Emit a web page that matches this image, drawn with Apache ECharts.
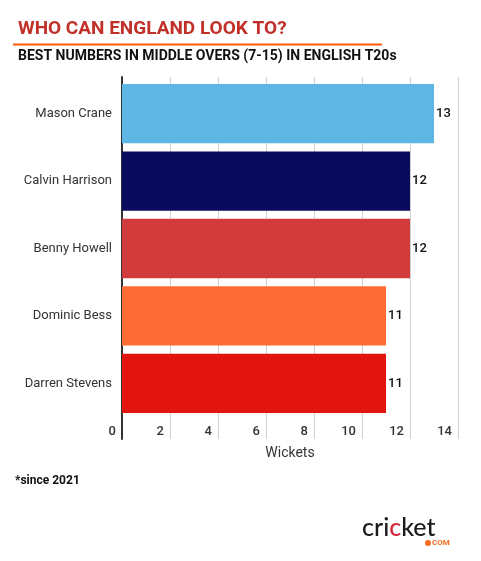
<!DOCTYPE html>
<html>
<head>
<meta charset="utf-8">
<script src="https://cdn.jsdelivr.net/npm/echarts@6/dist/echarts.min.js"></script>
<style>
html,body{margin:0;padding:0;background:#fff;}
#chart{width:481px;height:561px;}
</style>
</head>
<body>
<div id="chart"></div>
<script>
const players = ['Mason Crane', 'Calvin Harrison', 'Benny Howell', 'Dominic Bess', 'Darren Stevens'];
const wickets = [13, 12, 12, 11, 11];
const barColors = ['#5DB6E4', '#0A0B5E', '#D13B3B', '#FF6B35', '#E2140F'];
const axisMin = 0, axisMax = 14, axisStep = 2;

const chart = echarts.init(document.getElementById('chart'), null, {renderer: 'canvas'});
const FONT = 'Roboto';

chart.setOption({
  backgroundColor: '#ffffff',
  animation: false,
  textStyle: {fontFamily: FONT},
  grid: [
    {left: 122, right: 23, top: 77, height: 362},
    {left: 122, right: 23, top: 80, height: 337}
  ],
  xAxis: [
    {
      gridIndex: 0, type: 'value', min: axisMin, max: axisMax, interval: axisStep,
      axisLine: {show: false}, axisTick: {show: false},
      splitLine: {show: true, lineStyle: {color: '#d0d0d0', width: 1}},
      axisLabel: {inside: true, align: 'right', padding: [0, 6, 0, 0], margin: 1,
        color: '#333', fontSize: 13, fontWeight: 500, fontFamily: FONT},
      name: 'Wickets', nameLocation: 'middle', nameGap: 7,
      nameTextStyle: {color: '#333', fontSize: 14, fontFamily: FONT, verticalAlign: 'top'}
    },
    {
      gridIndex: 1, type: 'value', min: axisMin, max: axisMax, interval: axisStep,
      show: false
    }
  ],
  yAxis: [
    {
      gridIndex: 0, type: 'value', min: 0, max: 1,
      axisLine: {show: true, lineStyle: {color: '#333', width: 2}},
      axisTick: {show: false}, axisLabel: {show: false}, splitLine: {show: false}
    },
    {
      gridIndex: 1, type: 'category', data: players, inverse: true,
      axisLine: {show: false}, axisTick: {show: false},
      axisLabel: {color: '#333', fontSize: 13, margin: 10, fontFamily: FONT}
    }
  ],
  series: [{
    type: 'bar',
    xAxisIndex: 1, yAxisIndex: 1,
    barCategoryGap: '12%',
    data: wickets.map((v, i) => ({value: v, itemStyle: {color: barColors[i]}})),
    label: {show: true, position: 'right', distance: 2, color: '#111',
      fontSize: 13, fontWeight: 500, fontFamily: FONT}
  }],
  graphic: [
    {type: 'text', left: 18, top: 20, style: {text: 'WHO CAN ENGLAND LOOK TO?',
      fill: '#C2302A', font: 'bold 19px Roboto'}},
    {type: 'line', shape: {x1: 13, y1: 44.5, x2: 382, y2: 44.5},
      style: {stroke: '#FF5A0A', lineWidth: 2}},
    {type: 'text', left: 18, top: 49, style: {text: 'BEST NUMBERS IN MIDDLE OVERS (7-15) IN ENGLISH T20s',
      fill: '#111', font: 'bold 14px Roboto'}},
    {type: 'text', left: 15, top: 475, style: {text: '*since 2021',
      fill: '#111', font: 'bold 12px Roboto'}},
    {type: 'text', left: 362, top: 515, style: {
      text: '{a|cri}{b|c}{a|ket}',
      rich: {
        a: {fill: '#1a1a1a', font: '500 25px Lato', fontFamily: 'Lato', fontSize: 25, fontWeight: 500, color: '#1a1a1a'},
        b: {fill: '#D3283A', font: '500 25px Lato', fontFamily: 'Lato', fontSize: 25, fontWeight: 500, color: '#D3283A'}
      }
    }},
    {type: 'circle', shape: {cx: 428, cy: 543, r: 3}, style: {fill: '#F36C21'}},
    {type: 'text', left: 432, top: 538.5, style: {text: 'COM', fill: '#F36C21', font: 'bold 8px Roboto'}}
  ]
});
</script>
</body>
</html>
